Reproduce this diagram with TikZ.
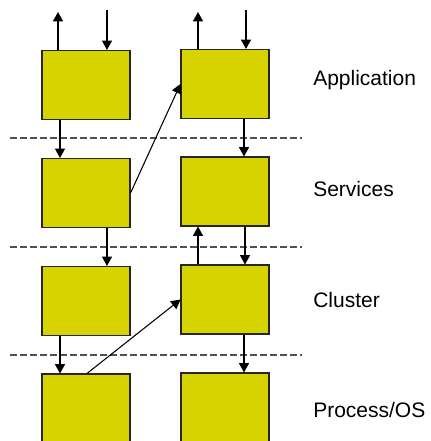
\documentclass[tikz,border=0pt]{standalone}
\usepackage{fontspec}
\setmainfont{Liberation Sans}
\usepackage{xcolor}
\usepackage{tikz}
\usetikzlibrary{arrows.meta}

\definecolor{boxyellow}{RGB}{214,211,0}
\definecolor{linegray}{RGB}{80,80,80}

\begin{document}
\begin{tikzpicture}[
    x=0.75pt, y=-0.75pt,
    block/.style={rectangle, draw=black!85, fill=boxyellow, line width=0.8pt, minimum width=66pt, minimum height=51.75pt, inner sep=0pt},
    flow/.style={line width=0.8pt, -{Triangle[length=7pt, width=7.5pt]}},
    divider/.style={draw=linegray, line width=1pt, dash pattern=on 5pt off 2.5pt},
    layername/.style={anchor=base west, inner sep=0pt, font=\fontsize{15.75}{19}\selectfont}
]
\clip (0,0) rectangle (430,441);

% Application layer
\node[block] (appL) at (86,85) {};
\node[block] (appR) at (225,84) {};
\node[layername] (appname) at (313,86) {Application};

% Services layer
\node[block] (srvL) at (86,193) {};
\node[block] (srvR) at (225,191.5) {};
\node[layername] (srvname) at (313,197) {Services};

% Cluster layer
\node[block] (cluL) at (86,301) {};
\node[block] (cluR) at (225,299.5) {};
\node[layername] (cluname) at (313,307) {Cluster};

% Process/OS layer
\node[block] (osL) at (86,408.5) {};
\node[block] (osR) at (225,407.5) {};
\node[layername] (osname) at (313,417) {Process/OS};

% Layer boundaries
\draw[divider] (10,138) -- (302,138);
\draw[divider] (10,247) -- (302,247);
\draw[divider] (10,355) -- (302,355);

% Open ends at the top
\coordinate (outL) at (58,12);
\coordinate (inL) at (107,10);
\coordinate (outR) at (198,12);
\coordinate (inR) at (246,10);

% Top connections
\draw[flow] (58,0 |- appL.north) -- (outL);
\draw[flow] (inL) -- (107,0 |- appL.north);
\draw[flow] (198,0 |- appR.north) -- (outR);
\draw[flow] (inR) -- (246,0 |- appR.north);

% Application to Services
\draw[flow] (60,0 |- appL.south) -- (60,0 |- srvL.north);
\draw[flow] (244,0 |- appR.south) -- (244,0 |- srvR.north);
\draw[flow] (srvL.east) -- (appR.west);

% Services to Cluster
\draw[flow] (107,0 |- srvL.south) -- (107,0 |- cluL.north);
\draw[flow] (198,0 |- cluR.north) -- (198,0 |- srvR.south);
\draw[flow] (245,0 |- srvR.south) -- (245,0 |- cluR.north);

% Cluster to Process/OS
\draw[flow] (60,0 |- cluL.south) -- (60,0 |- osL.north);
\draw[flow] (87,0 |- osL.north) -- (cluR.west);
\draw[flow] (244,0 |- cluR.south) -- (244,0 |- osR.north);

\end{tikzpicture}
\end{document}
